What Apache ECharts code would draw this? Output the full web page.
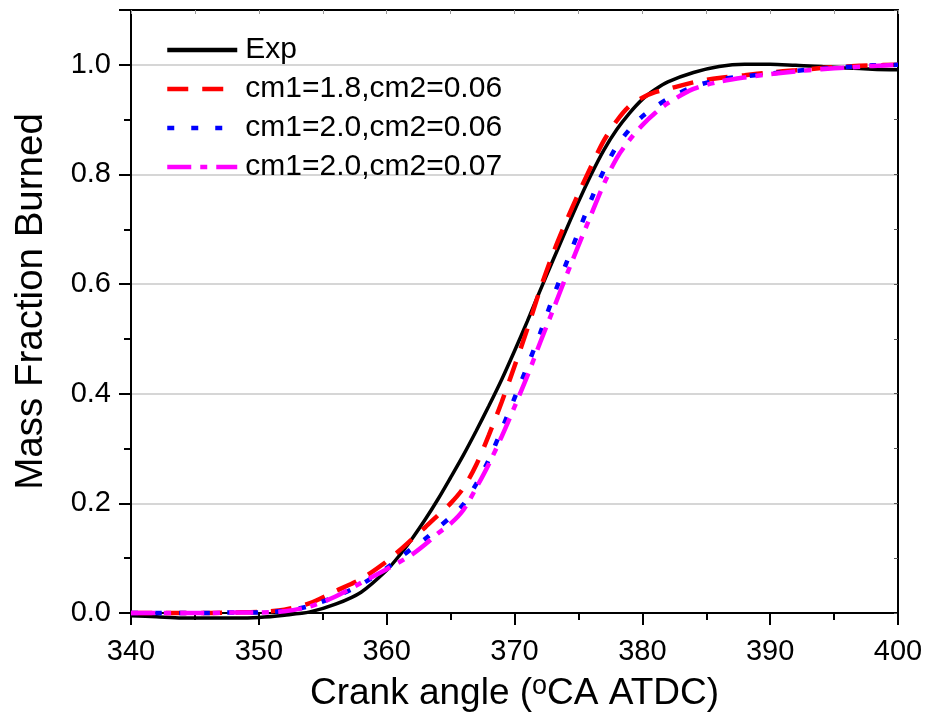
<!DOCTYPE html>
<html>
<head>
<meta charset="utf-8">
<script src="https://cdn.jsdelivr.net/npm/echarts@6/dist/echarts.min.js"></script>
<style>
  html, body { margin: 0; padding: 0; background: #ffffff; }
  #chart { width: 928px; height: 720px; }
</style>
</head>
<body>
<div id="chart"></div>
<script>
// Crank angle samples (°CA ATDC) shared by every curve
const crankAngle = [340, 342, 344, 346, 348, 350, 352, 354, 356, 358, 360, 361, 362, 363, 364, 365, 366, 367, 368, 369, 370, 371, 372, 373, 374, 375, 376, 377, 378, 379, 380, 381, 382, 384, 386, 388, 390, 392, 394, 396, 398, 400];

// Mass fraction burned: measured curve
const mfbExp = [-0.005, -0.007, -0.009, -0.009, -0.009, -0.008, -0.004, 0.002, 0.016, 0.038, 0.078, 0.105, 0.136, 0.17, 0.207, 0.247, 0.288, 0.332, 0.378, 0.426, 0.478, 0.532, 0.588, 0.643, 0.697, 0.75, 0.8, 0.845, 0.882, 0.912, 0.937, 0.955, 0.969, 0.986, 0.997, 1.001, 1.001, 0.999, 0.997, 0.994, 0.992, 0.991];

// Mass fraction burned: model, cm1=1.8, cm2=0.06
const mfbCm18_006 = [0, 0, 0, 0, 0.001, 0.002, 0.006, 0.018, 0.04, 0.062, 0.094, 0.114, 0.135, 0.156, 0.178, 0.2, 0.228, 0.27, 0.325, 0.385, 0.45, 0.518, 0.59, 0.655, 0.712, 0.765, 0.815, 0.862, 0.898, 0.925, 0.94, 0.95, 0.956, 0.968, 0.976, 0.981, 0.986, 0.99, 0.994, 0.997, 0.999, 1.0];

// Mass fraction burned: model, cm1=2.0, cm2=0.06
const mfbCm20_006 = [0, 0, 0, 0, 0.001, 0.001, 0.004, 0.013, 0.03, 0.052, 0.082, 0.1, 0.118, 0.135, 0.155, 0.175, 0.198, 0.235, 0.28, 0.335, 0.392, 0.45, 0.51, 0.575, 0.635, 0.695, 0.754, 0.808, 0.852, 0.882, 0.906, 0.923, 0.938, 0.96, 0.973, 0.979, 0.984, 0.989, 0.993, 0.996, 0.999, 1.0];

// Mass fraction burned: model, cm1=2.0, cm2=0.07
const mfbCm20_007 = [0, 0, 0, 0, 0.001, 0.001, 0.003, 0.012, 0.03, 0.055, 0.08, 0.093, 0.107, 0.125, 0.145, 0.163, 0.188, 0.228, 0.272, 0.322, 0.376, 0.432, 0.493, 0.552, 0.612, 0.67, 0.727, 0.783, 0.83, 0.863, 0.89, 0.912, 0.93, 0.956, 0.969, 0.977, 0.983, 0.988, 0.992, 0.995, 0.998, 1.0];

const seriesNames = ['Exp', 'cm1=1.8,cm2=0.06', 'cm1=2.0,cm2=0.06', 'cm1=2.0,cm2=0.07'];
// axis titles; the "o" in the crank-angle unit is set as a superscript
const xTitle = '{t|Crank angle (}{s|o}{t|CA ATDC)}';
const yTitle = 'Mass Fraction Burned';

const FONT = '"Liberation Sans", Arial, Helvetica, sans-serif';

function pairs(ys) {
  return crankAngle.map((x, i) => [x, ys[i]]);
}

function curve(name, ys, color, width, dash) {
  return {
    name: name,
    type: 'line',
    data: pairs(ys),
    smooth: 0.3,
    showSymbol: false,
    symbol: 'none',
    clip: false,
    lineStyle: { color: color, width: width, type: dash, cap: 'butt' },
    itemStyle: { color: color },
    emphasis: { disabled: true }
  };
}

const chart = echarts.init(document.getElementById('chart'), null, { renderer: 'canvas' });

const axisText = { color: '#000', fontFamily: FONT, fontSize: 29 };

chart.setOption({
  backgroundColor: '#ffffff',
  animation: false,
  grid: { left: 131, right: 30, top: 10, bottom: 107, containLabel: false },
  legend: {
    orient: 'vertical',
    left: 165,
    top: 35,
    padding: 0,
    itemWidth: 70,
    itemHeight: 14,
    itemGap: 9,
    data: seriesNames,
    itemStyle: { opacity: 0 },
    lineStyle: { width: 4.5 },
    textStyle: { color: '#000', fontFamily: FONT, fontSize: 30, lineHeight: 30, padding: [0, 0, 0, 3] },
    selectedMode: false
  },
  xAxis: [
    {
      type: 'value',
      position: 'bottom',
      min: 340,
      max: 400,
      interval: 10,
      name: xTitle,
      nameLocation: 'middle',
      nameGap: 60,
      nameTextStyle: {
        color: '#000',
        fontFamily: FONT,
        rich: {
          t: { fontFamily: FONT, fontSize: 37, lineHeight: 42, color: '#000' },
          s: { fontFamily: FONT, fontSize: 27, lineHeight: 24, verticalAlign: 'top', color: '#000' }
        }
      },
      axisLine: { show: true, onZero: false, lineStyle: { color: '#000', width: 2 } },
      axisTick: { show: true, inside: false, length: 12, lineStyle: { color: '#000', width: 2 } },
      minorTick: { show: true, splitNumber: 2, length: 7, lineStyle: { color: '#000', width: 2 } },
      axisLabel: Object.assign({ margin: 24 }, axisText),
      splitLine: { show: false }
    },
    {
      type: 'value',
      position: 'top',
      min: 340,
      max: 400,
      interval: 5,
      axisLine: { show: true, onZero: false, lineStyle: { color: '#000', width: 2 } },
      axisTick: { show: true, inside: true, length: 4, lineStyle: { color: '#999', width: 1 } },
      axisLabel: { show: false },
      splitLine: { show: false }
    }
  ],
  yAxis: [
    {
      type: 'value',
      position: 'left',
      min: 0,
      max: 1.1,
      interval: 0.2,
      name: yTitle,
      nameLocation: 'middle',
      nameGap: 80,
      nameRotate: 90,
      nameTextStyle: { color: '#000', fontFamily: FONT, fontSize: 38.5, padding: [0, 0, 0, 20] },
      axisLine: { show: true, onZero: false, lineStyle: { color: '#000', width: 2 } },
      axisTick: { show: true, inside: false, length: 12, lineStyle: { color: '#000', width: 2 } },
      minorTick: { show: true, splitNumber: 2, length: 7, lineStyle: { color: '#000', width: 2 } },
      axisLabel: Object.assign({ margin: 20, showMaxLabel: false, formatter: v => v.toFixed(1) }, axisText),
      splitLine: { show: true, lineStyle: { color: '#c8c8c8', width: 1.5 } }
    },
    {
      type: 'value',
      position: 'right',
      min: 0,
      max: 1.1,
      interval: 0.1,
      axisLine: { show: true, onZero: false, lineStyle: { color: '#000', width: 2 } },
      axisTick: { show: true, inside: true, length: 4, lineStyle: { color: '#555', width: 1 } },
      axisLabel: { show: false },
      splitLine: { show: false }
    }
  ],
  series: [
    curve(seriesNames[0], mfbExp, '#000000', 3.5, 'solid'),
    curve(seriesNames[1], mfbCm18_006, '#ff0000', 4.5, [21, 14]),
    curve(seriesNames[2], mfbCm20_006, '#0000ff', 4.5, [7, 17]),
    curve(seriesNames[3], mfbCm20_007, '#ff00ff', 4.5, [24, 9, 7, 9])
  ]
});
</script>
</body>
</html>
